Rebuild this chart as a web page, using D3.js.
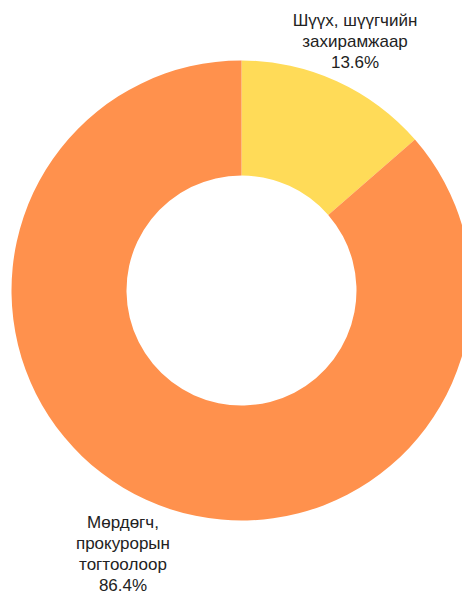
<!DOCTYPE html>
<html>
<head>
<meta charset="utf-8">
<script src="https://cdn.jsdelivr.net/npm/d3@7"></script>
<style>
html, body { margin: 0; padding: 0; background: #ffffff; }
svg { display: block; }
</style>
</head>
<body>
<svg id="chart" width="462" height="591"></svg>
<script>
const categories = ["Шүүх, шүүгчийн захирамжаар", "Мөрдөгч, прокурорын тогтоолоор"];
const labelLines = [["Шүүх, шүүгчийн", "захирамжаар"], ["Мөрдөгч,", "прокурорын", "тогтоолоор"]];
const values = [13.6, 86.4];
const colors = ["#ffdb58", "#ff914d"];

const svg = d3.select("#chart");
const cx = 241.5, cy = 290.5;
const outerR = 230, innerR = 115, labelR = 274;

const pie = d3.pie().sort(null).value(d => d)(values);
const arc = d3.arc().innerRadius(innerR).outerRadius(outerR);
const labelArc = d3.arc().innerRadius(labelR).outerRadius(labelR);

const g = svg.append("g").attr("transform", `translate(${cx},${cy})`);
g.selectAll("path.slice").data(pie).enter().append("path")
  .attr("class", "slice")
  .attr("d", arc)
  .attr("fill", (d, i) => colors[i]);

const lineH = 21;
const extraOffset = [[0, 0], [-5, 14]];
pie.forEach((d, i) => {
  const [lx, ly] = labelArc.centroid(d);
  const lines = labelLines[i].concat([d3.format(".1f")(values[i]) + "%"]);
  const n = lines.length;
  const t = g.append("text")
    .attr("text-anchor", "middle")
    .attr("font-family", "Arial, 'Liberation Sans', sans-serif")
    .attr("font-size", 17)
    .attr("fill", "#222222");
  lines.forEach((s, k) => {
    t.append("tspan")
      .attr("x", lx + extraOffset[i][0])
      .attr("y", ly + extraOffset[i][1] + (k - (n - 1) / 2) * lineH + 6)
      .text(s);
  });
});
</script>
</body>
</html>
